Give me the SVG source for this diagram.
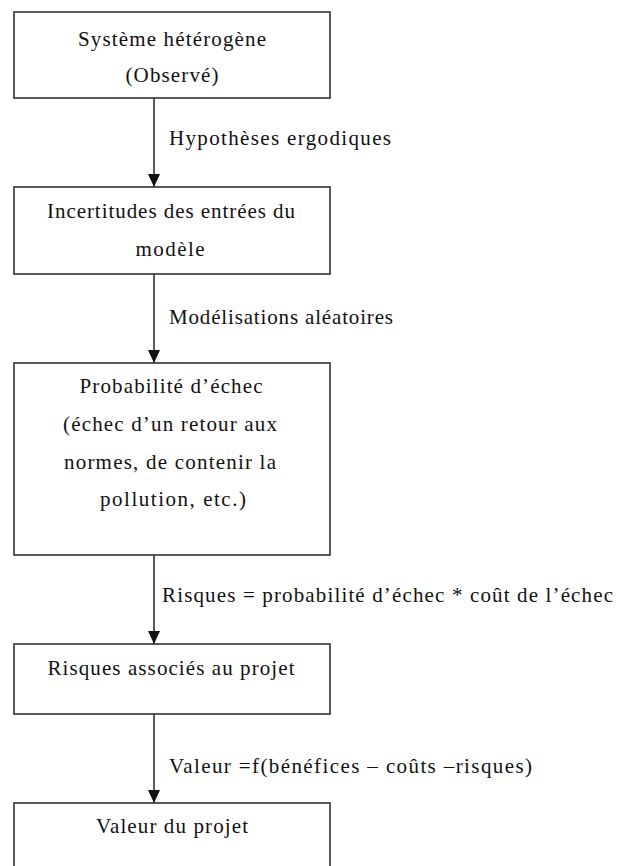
<svg xmlns="http://www.w3.org/2000/svg" width="617" height="866" viewBox="0 0 617 866">
<defs>
<style>
.box{fill:#fff;stroke:#333;stroke-width:1.6}
.t{font-family:"Liberation Serif","Times New Roman",serif;font-size:21px;fill:#111}
.c{text-anchor:middle}
.edge{stroke:#222;stroke-width:1.5;fill:none}
</style>
<marker id="ah" viewBox="0 0 13 12" refX="13" refY="6" markerWidth="13" markerHeight="12" markerUnits="userSpaceOnUse" orient="auto">
<path d="M0,0 L13,6 L0,12 Z" fill="#111"/>
</marker>
</defs>
<rect width="617" height="866" fill="#fff"/>
<g id="connectors">
<line class="edge" x1="154" y1="98" x2="154" y2="187" marker-end="url(#ah)"/>
<line class="edge" x1="154" y1="274" x2="154" y2="363" marker-end="url(#ah)"/>
<line class="edge" x1="154" y1="555" x2="154" y2="644" marker-end="url(#ah)"/>
<line class="edge" x1="154" y1="714" x2="154" y2="803" marker-end="url(#ah)"/>
<text class="t" x="169" y="145" textLength="222" lengthAdjust="spacing">Hypothèses ergodiques</text>
<text class="t" x="169" y="324" textLength="224" lengthAdjust="spacing">Modélisations aléatoires</text>
<text class="t" x="162" y="602" textLength="451" lengthAdjust="spacing">Risques = probabilité d’échec * coût de l’échec</text>
<text class="t" x="169" y="773" textLength="363" lengthAdjust="spacing">Valeur =f(bénéfices – coûts –risques)</text>
</g>
<g id="n1">
<rect class="box" x="14" y="12" width="316" height="86"/>
<text class="t c" x="172" y="46" textLength="188" lengthAdjust="spacing">Système hétérogène</text>
<text class="t c" x="172" y="82" textLength="93" lengthAdjust="spacing">(Observé)</text>
</g>
<g id="n2">
<rect class="box" x="14" y="187" width="316" height="87"/>
<text class="t c" x="171" y="218" textLength="248" lengthAdjust="spacing">Incertitudes des entrées du</text>
<text class="t c" x="170" y="256" textLength="69" lengthAdjust="spacing">modèle</text>
</g>
<g id="n3">
<rect class="box" x="14" y="363" width="316" height="192"/>
<text class="t c" x="171" y="393" textLength="183" lengthAdjust="spacing">Probabilité d’échec</text>
<text class="t c" x="170" y="431" textLength="214" lengthAdjust="spacing">(échec d’un retour aux</text>
<text class="t c" x="170" y="469" textLength="212" lengthAdjust="spacing">normes, de contenir la</text>
<text class="t c" x="173" y="506" textLength="146" lengthAdjust="spacing">pollution, etc.)</text>
</g>
<g id="n4">
<rect class="box" x="14" y="644" width="316" height="70"/>
<text class="t c" x="171" y="675" textLength="247" lengthAdjust="spacing">Risques associés au projet</text>
</g>
<g id="n5">
<rect class="box" x="14" y="803" width="316" height="80"/>
<text class="t c" x="172" y="833" textLength="152" lengthAdjust="spacing">Valeur du projet</text>
</g>
</svg>
